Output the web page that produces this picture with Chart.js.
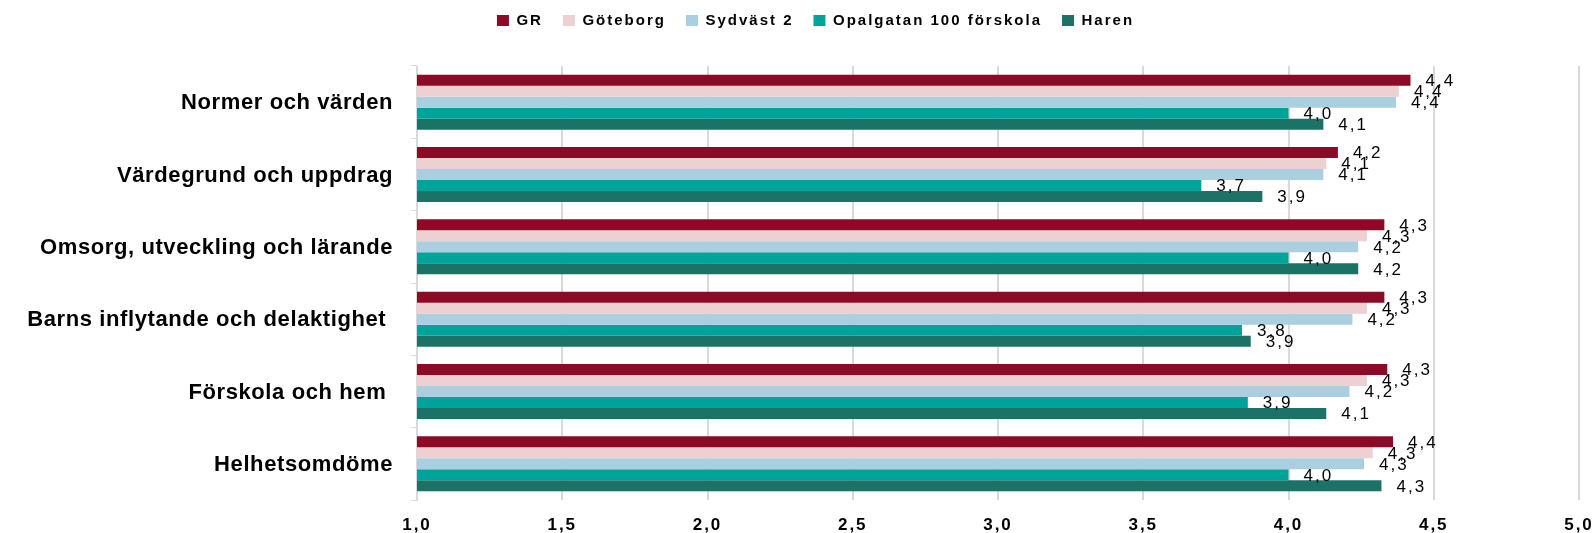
<!DOCTYPE html>
<html>
<head>
<meta charset="utf-8">
<script src="https://cdn.jsdelivr.net/npm/chart.js@4"></script>
<style>
  html, body { margin: 0; padding: 0; background: #fff; }
  #wrap { width: 1595px; height: 533px; }
</style>
</head>
<body>
<div id="wrap"><canvas id="myChart" width="1595" height="533"></canvas></div>
<script>
const categories = ['Normer och värden', 'Värdegrund och uppdrag', 'Omsorg, utveckling och lärande',
    'Barns inflytande och delaktighet ', 'Förskola och hem ', 'Helhetsomdöme'];

const seriesNames = ['GR', 'Göteborg', 'Sydväst 2', 'Opalgatan 100 förskola', 'Haren'];
const seriesColors = ['#8c0a25', '#edd0d2', '#a9cfe1', '#00a39a', '#1b7266'];

const grValues = [4.42, 4.17, 4.33, 4.33, 4.34, 4.36];
const goteborgValues = [4.38, 4.13, 4.27, 4.27, 4.27, 4.29];
const sydvastValues = [4.37, 4.12, 4.24, 4.22, 4.21, 4.26];
const opalValues = [4.00, 3.70, 4.00, 3.84, 3.86, 4.00];
const harenValues = [4.12, 3.91, 4.24, 3.87, 4.13, 4.32];

const xTicks = [1.0, 1.5, 2.0, 2.5, 3.0, 3.5, 4.0, 4.5, 5.0];

const allValues = [grValues, goteborgValues, sydvastValues, opalValues, harenValues];

function komma(v) {
    return v.toFixed(1).replace('.', ',');
}

// etiketter vid staplarnas slut
const barLabels = {
    id: 'barLabels',
    afterDatasetsDraw(chart) {
        const c = chart.ctx;
        c.save();
        c.letterSpacing = '2px';
        c.font = '17px "Liberation Sans"';
        c.fillStyle = '#000';
        c.textBaseline = 'middle';
        c.textAlign = 'left';
        chart.data.datasets.forEach((ds, i) => {
            chart.getDatasetMeta(i).data.forEach((el, j) => {
                c.fillText(komma(ds.data[j]), el.x + 15, el.y + 1);
            });
        });
        c.restore();
    }
};

// bokstavsavstånd för legend och axlar
function spaced(obj, name, sp, dx, dy) {
    const orig = obj[name].bind(obj);
    obj[name] = function (...args) {
        const c = obj.ctx;
        c.save();
        c.letterSpacing = sp;
        c.translate(dx || 0, dy || 0);
        const r = orig(...args);
        c.restore();
        return r;
    };
}

const spacing = {
    id: 'spacing',
    beforeUpdate(chart) {
        const lg = chart.legend;
        if (lg && !lg._sp) {
            lg._sp = true;
            spaced(lg, 'draw', '2px', 18, -7);
            const fit = lg.fit.bind(lg);
            lg.fit = function () {
                const c = lg.ctx;
                c.save();
                c.letterSpacing = '2px';
                fit();
                c.restore();
                lg.height = 66;
            };
        }
    },
    beforeDraw(chart) {
        const sx = chart.scales.x, sy = chart.scales.y;
        if (!sx._sp) { sx._sp = true; spaced(sx, 'drawLabels', '2px'); }
        if (!sy._sp) { sy._sp = true; spaced(sy, 'drawLabels', '0.6px', 0, 1); }
    }
};

const ctx = document.getElementById('myChart').getContext('2d');

new Chart(ctx, {
    type: 'bar',
    data: {
        labels: categories,
        datasets: seriesNames.map((name, i) => ({
            label: name,
            data: allValues[i],
            backgroundColor: seriesColors[i],
            borderWidth: 0,
            categoryPercentage: 0.76,
            barPercentage: 1.0
        }))
    },
    options: {
        indexAxis: 'y',
        responsive: false,
        animation: false,
        layout: { padding: 0 },
        scales: {
            x: {
                min: 1,
                max: 5,
                afterBuildTicks(scale) {
                    scale.ticks = xTicks.map(v => ({ value: v }));
                },
                afterFit(scale) {
                    scale.height = 33;
                    scale.paddingRight = 16;
                    scale.paddingLeft = 0;
                },
                ticks: {
                    color: '#000',
                    font: { family: 'Liberation Sans', size: 17, weight: 'bold' },
                    padding: 15,
                    maxRotation: 0,
                    callback: (v) => komma(v)
                },
                grid: { color: '#d9d9d9', lineWidth: 2, drawTicks: false },
                border: { display: false }
            },
            y: {
                afterFit(scale) {
                    scale.width = 417;
                },
                ticks: {
                    color: '#000',
                    font: { family: 'Liberation Sans', size: 22, weight: 'bold' },
                    padding: 18
                },
                grid: { offset: true, drawOnChartArea: false, color: '#d9d9d9', tickLength: 6, lineWidth: 1 },
                border: { display: true, color: '#d9d9d9', width: 1 }
            }
        },
        plugins: {
            legend: {
                position: 'top',
                labels: {
                    color: '#000',
                    boxWidth: 12,
                    boxHeight: 11,
                    padding: 20,
                    font: { family: 'Liberation Sans', size: 15, weight: 'bold' }
                }
            },
            tooltip: { enabled: false }
        }
    },
    plugins: [spacing, barLabels]
});
</script>
</body>
</html>
